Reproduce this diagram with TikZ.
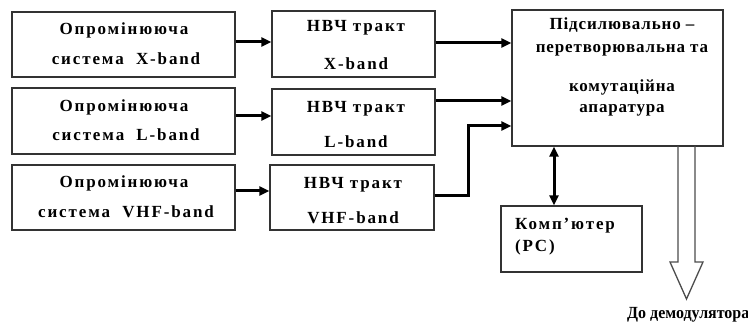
\documentclass[tikz,border=0pt]{standalone}
\usepackage{fontspec}
\setmainfont{Liberation Serif}
\newfontfamily\boxfont[LetterSpace=11]{Liberation Serif Bold}
\newfontfamily\tightfont[LetterSpace=5]{Liberation Serif Bold}
\newfontfamily\narrowfont[FakeStretch=0.94]{Liberation Serif Bold}
\usetikzlibrary{arrows.meta}
\begin{document}
\begin{tikzpicture}[x=1pt,y=-1pt,
  blk/.style={draw=black!80,line width=1.3pt,inner sep=0pt},
  txt/.style={anchor=base,inner sep=0pt,font=\boxfont\fontsize{17}{20}\selectfont},
  ctxt/.style={anchor=base,inner sep=0pt,font=\tightfont\fontsize{17}{20}\selectfont},
  arr/.style={line width=3pt,-{Triangle[length=10pt,width=9pt]}},
  darr/.style={line width=3pt,{Triangle[length=10pt,width=9pt]}-{Triangle[length=10pt,width=9pt]}},
  hollow/.style={draw=black!70,line width=1.3pt,line join=miter}]
\useasboundingbox (0,0) rectangle (748,326);
% boxes
\node[blk,minimum width=223pt,minimum height=65pt] (A1) at (123.5,44.5) {};
\node[blk,minimum width=223pt,minimum height=66pt] (A2) at (123.5,121) {};
\node[blk,minimum width=223pt,minimum height=65pt] (A3) at (123.5,197.5) {};
\node[blk,minimum width=163pt,minimum height=66pt] (B1) at (353.5,44) {};
\node[blk,minimum width=163pt,minimum height=66pt] (B2) at (353.5,122) {};
\node[blk,minimum width=164pt,minimum height=65pt] (B3) at (352,197.5) {};
\node[blk,minimum width=211pt,minimum height=136pt] (C) at (617.5,78) {};
\node[blk,minimum width=141pt,minimum height=66pt] (D) at (571.5,239) {};
% texts
\node[txt] (a1t) at (124,35) {Опромінююча};
\node[txt] (a1b) at (126,65) {система\ \ X-band};
\node[txt] (a2t) at (124,112) {Опромінююча};
\node[txt] (a2b) at (126,141) {система\ \ L-band};
\node[txt] (a3t) at (124,188) {Опромінююча};
\node[txt] (a3b) at (126,218) {система\ \ VHF-band};
\node[txt] (b1t) at (356,32) {НВЧ тракт};
\node[txt] (b1b) at (356,70) {X-band};
\node[txt] (b2t) at (356,113) {НВЧ тракт};
\node[txt] (b2b) at (356,148) {L-band};
\node[txt] (b3t) at (353,189) {НВЧ тракт};
\node[txt] (b3b) at (353,224) {VHF-band};
\node[ctxt] (c1) at (622,30) {Підсилювально –};
\node[ctxt] (c2) at (622,53) {перетворювальна та};
\node[ctxt] (c3) at (622,92) {комутаційна};
\node[ctxt] (c4) at (622,113) {апаратура};
\node[txt,anchor=base west] (d1) at (515,230) {Комп’ютер};
\node[txt,anchor=base west] (d2) at (515,252) {(PC)};
\node[anchor=base west,inner sep=0pt,font=\narrowfont\fontsize{17}{20}\selectfont] (out) at (627,318) {До демодулятора};
% connectors
\draw[arr] ([yshift=2.5pt]A1.east) -- ([yshift=2pt]B1.west);
\draw[arr] ([yshift=5pt]A2.east) -- ([yshift=6pt]B2.west);
\draw[arr] ([yshift=6.5pt]A3.east) -- ([yshift=6.5pt]B3.west);
\draw[arr] ([yshift=1pt]B1.east) -- ([yshift=1pt]B1.east -| C.west);
\draw[arr] ([yshift=21pt]B2.east) -- ([yshift=21pt]B2.east -| C.west);
\coordinate (m) at (468,126);
\draw[arr] ([yshift=1.5pt]B3.east) -| (m) -- (m -| C.west);
\draw[darr] ([xshift=-17.5pt]D.north) -- ([xshift=-17.5pt]D.north |- C.south);
% hollow output arrow
\coordinate (hl) at (678,146);
\coordinate (hr) at (695,146);
\draw[hollow] (hl) -- (678,262) -- (670,262) -- (686.5,299) -- (703,262) -- (695,262) -- (hr);
\end{tikzpicture}
\end{document}
